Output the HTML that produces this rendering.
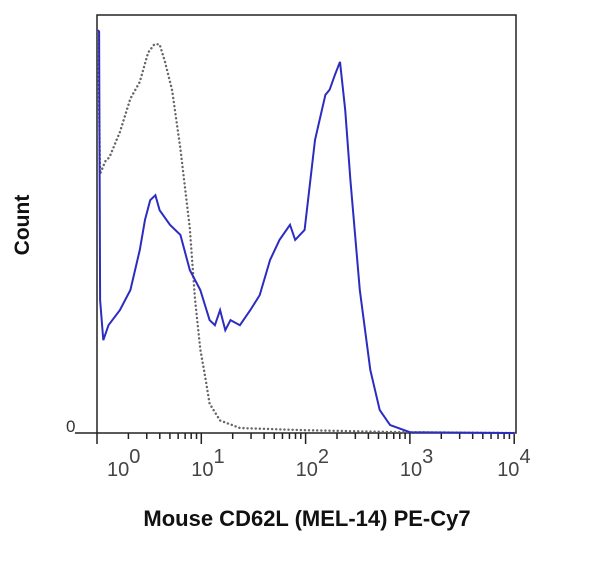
<!DOCTYPE html>
<html><head><meta charset="utf-8"><style>
body{margin:0;background:#fff;width:600px;height:564px;overflow:hidden;font-family:"Liberation Sans",sans-serif}
</style></head><body>
<svg width="600" height="564">
<rect x="97" y="15" width="419" height="418" fill="none" stroke="#222" stroke-width="1.5"/>
<g id="ticks"></g>
<text x="66" y="432" font-size="17" fill="#333">0</text>
<text transform="translate(29,225) rotate(-90)" text-anchor="middle" font-size="21" font-weight="bold" fill="#111">Count</text>
<text x="307" y="526" text-anchor="middle" font-size="22" font-weight="bold" fill="#111">Mouse CD62L (MEL-14) PE-Cy7</text>
<path id="gray" fill="none" stroke="#666" stroke-width="2.4" stroke-dasharray="0.1,4" stroke-linecap="round"/>
<path id="blue" fill="none" stroke="#2c2cc0" stroke-width="2"/>
</svg>
<script>
const blueLog=[0.01,0.02,0.03,0.06,0.11,0.22,0.32,0.41,0.46,0.51,0.56,0.60,0.70,0.80,0.89,0.99,1.08,1.13,1.18,1.23,1.28,1.37,1.47,1.56,1.66,1.75,1.85,1.90,1.99,2.09,2.19,2.23,2.28,2.33,2.38,2.43,2.52,2.62,2.71,2.81,3.0,4.0];
const blueCount=[96.4,96,31.8,22.2,25.8,29.4,34.2,43.8,51,55.7,56.9,53.3,49.8,47.4,39,34.2,27,25.8,29.4,24.6,27,25.8,29.4,33,41.4,46.2,49.8,46.2,48.6,70.1,80.9,82.1,85.6,88.8,77.3,60.5,34.2,15.1,5.5,1.9,0.2,0];
const grayLog=[0.01,0.03,0.08,0.12,0.22,0.32,0.41,0.49,0.55,0.60,0.65,0.72,0.80,0.89,0.94,0.99,1.04,1.08,1.18,1.37,1.95,2.91,4.0];
const grayCount=[96,62,65,66,72,80,84,91,93,93,89,82,68,49,32,20,13,7,3,1.2,0.7,0.2,0];
const xTicks=[0,1,2,3,4];
const xTickLabels=["10","10","10","10","10"];
const xTickExps=["0","1","2","3","4"];
const labelOffsets=[10,-10,-10,-10,-17];
const x=v=>97+v*104.3, y=c=>433-c*4.18;
const mk=(xs,ys)=>xs.map((v,i)=>(i?'L':'M')+x(v).toFixed(1)+','+y(ys[i]).toFixed(1)).join('');
document.getElementById('gray').setAttribute('d',mk(grayLog,grayCount));
document.getElementById('blue').setAttribute('d',mk(blueLog,blueCount));
const g=document.getElementById('ticks'),NS='http://www.w3.org/2000/svg';
let d='';
xTicks.forEach((t,i)=>{
  d+=`M${x(t)},433L${x(t)},444`;
  if(i<xTicks.length-1) for(let k=2;k<10;k++){const px=x(t+Math.log10(k));d+=`M${px},433L${px},439`;}
  const tx=document.createElementNS(NS,'text');
  
  
  tx.setAttribute('x',x(t)+labelOffsets[i]);tx.setAttribute('y',476);tx.setAttribute('font-size','20');tx.setAttribute('fill','#444');
  tx.innerHTML=xTickLabels[i]+`<tspan dy="-13" font-size="20">${xTickExps[i]}</tspan>`;
  g.appendChild(tx);
});
const p=document.createElementNS(NS,'path');


p.setAttribute('d',d+'M75,433L97,433');p.setAttribute('stroke','#222');p.setAttribute('stroke-width','1.5');
g.appendChild(p);
</script>
</body></html>
